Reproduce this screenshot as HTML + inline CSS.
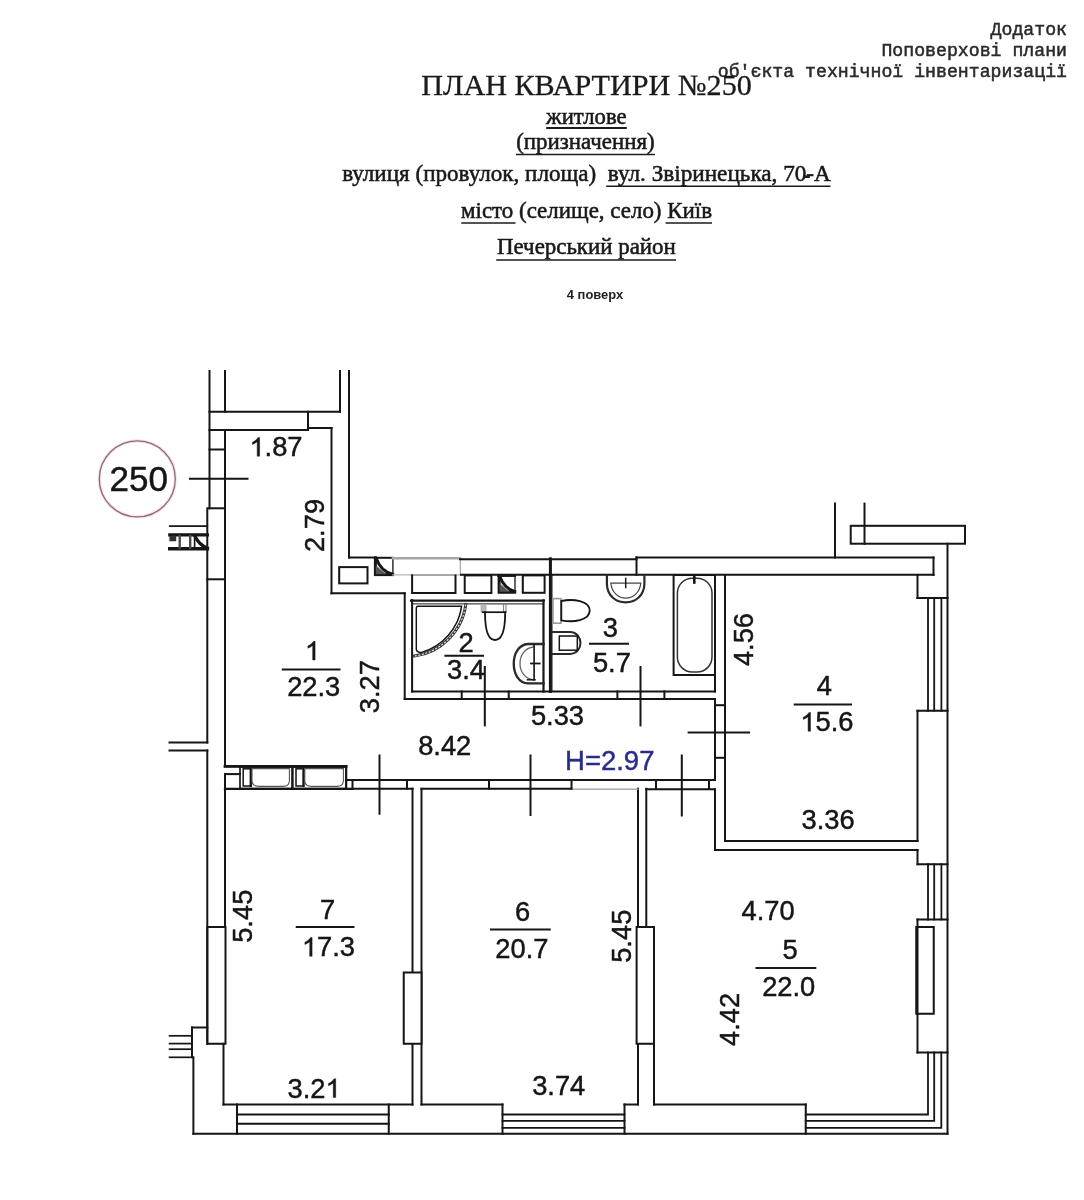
<!DOCTYPE html>
<html lang="uk"><head><meta charset="utf-8"><title>План квартири №250</title>
<style>
html,body{margin:0;padding:0;background:#fff;}
body{width:1084px;height:1200px;overflow:hidden;font-family:"Liberation Sans",sans-serif;}
svg{display:block;}
text.n{font-family:"Liberation Sans",sans-serif;}
text.s{font-family:"Liberation Serif",serif;}
text.m{font-family:"Liberation Mono",monospace;font-size:18.2px;}
</style></head><body>
<svg width="1084" height="1200" viewBox="0 0 1084 1200">
<defs><filter id="soft" x="0" y="0" width="100%" height="100%" filterUnits="userSpaceOnUse"><feGaussianBlur stdDeviation="0.5"/></filter></defs>
<rect width="1084" height="1200" fill="#fff"/>
<g filter="url(#soft)">
<g stroke="#141414" stroke-width="2.0" fill="none" stroke-linecap="square">
<line x1="209.5" y1="371" x2="209.5" y2="508.3"/>
<line x1="225" y1="371" x2="225" y2="411.75"/>
<line x1="225" y1="430" x2="225" y2="766.25"/>
<line x1="340" y1="371" x2="340" y2="411.75"/>
<line x1="349" y1="371" x2="349" y2="557.5"/>
<line x1="209.5" y1="411.75" x2="340" y2="411.75"/>
<line x1="209.5" y1="430" x2="308" y2="430"/>
<line x1="308" y1="411.75" x2="308" y2="430"/>
<line x1="308" y1="428" x2="331.5" y2="428"/>
<line x1="331.5" y1="428" x2="331.5" y2="593.3"/>
<line x1="209.5" y1="449.5" x2="225" y2="449.5"/>
<line x1="190" y1="478.75" x2="247.5" y2="478.75"/>
<rect x="207.3" y="508.3" width="17.7" height="71.0" fill="none"/>
<line x1="207.3" y1="579.3" x2="207.3" y2="742.5"/>
<line x1="207.3" y1="750.5" x2="207.3" y2="1043.75"/>
<line x1="169.5" y1="742.5" x2="207.3" y2="742.5"/>
<line x1="169.5" y1="750.5" x2="207.3" y2="750.5"/>
<line x1="169.8" y1="526.1" x2="207.3" y2="526.1" stroke-width="1.7"/>
<line x1="169.8" y1="534.8" x2="207.3" y2="534.8" stroke-width="3.2"/>
<line x1="169.8" y1="548.8" x2="207.3" y2="548.8" stroke-width="3.6"/>
<line x1="179.7" y1="536" x2="179.7" y2="548" stroke-width="2.4" stroke="#4a4a4a"/>
<line x1="190.2" y1="536" x2="190.2" y2="548" stroke-width="2.4" stroke="#4a4a4a"/>
<path d="M169.8 536 L176 536 L176 541 L169.8 541 Z" fill="#333" stroke-width="0.5" stroke="#333"/>
<line x1="194.6" y1="536" x2="194.6" y2="548" stroke-width="1.6"/>
<path d="M194.6 535.5 Q199 545 207.3 548" fill="none" stroke-width="3.2"/>
<line x1="349" y1="557.5" x2="374.3" y2="557.5"/>
<rect x="339.2" y="567.1" width="28.3" height="16.3" fill="none"/>
<rect x="374.6" y="557.6" width="18.3" height="17.8" fill="none" stroke-width="1.4" stroke="#222"/>
<path d="M375.6 557.6 L375.6 574.4 L392.9 574.4" fill="none" stroke-width="2.6"/>
<line x1="374.6" y1="557.8" x2="392.9" y2="557.8" stroke-width="1.8"/>
<path d="M376.5 559 Q381 571 392 574" fill="none" stroke-width="3.0"/>
<path d="M376 566 L376 574 L386 574 Z" fill="#555" stroke-width="0.5" stroke="#555"/>
<line x1="392.9" y1="558.2" x2="460" y2="558.2" stroke-width="2.4" stroke="#a6a6a6"/>
<line x1="392.9" y1="574.9" x2="412" y2="574.9" stroke-width="1.3" stroke="#b8b8b8"/>
<line x1="412" y1="574.9" x2="455.6" y2="574.9" stroke-width="1.5" stroke="#8a8a8a"/>
<line x1="455.6" y1="574.9" x2="461" y2="574.9" stroke-width="1.3" stroke="#b8b8b8"/>
<line x1="460.4" y1="559.5" x2="460.4" y2="574.6" stroke-width="1.3" stroke="#aaaaaa"/>
<line x1="460" y1="559.2" x2="636.5" y2="559.2"/>
<line x1="636.5" y1="557.3" x2="636.5" y2="574.8"/>
<line x1="636.5" y1="557.5" x2="933.5" y2="557.5"/>
<line x1="933.5" y1="557.5" x2="933.5" y2="575"/>
<line x1="461" y1="574.8" x2="933.5" y2="574.8"/>
<line x1="331.5" y1="593.3" x2="404.7" y2="593.3"/>
<line x1="404.7" y1="593.3" x2="404.7" y2="699"/>
<line x1="404.7" y1="699" x2="715" y2="699"/>
<path d="M412.1 575.4 L412.1 593 L455.5 593 L455.5 575.4" fill="none"/>
<rect x="464.7" y="575.4" width="26.7" height="17.6" fill="none"/>
<rect x="498.3" y="575.4" width="16.7" height="17.6" fill="none" stroke-width="1.4" stroke="#222"/>
<path d="M499.3 575.4 L499.3 592 L515 592" fill="none" stroke-width="2.6"/>
<line x1="498.3" y1="575.8" x2="515" y2="575.8" stroke-width="2.2"/>
<path d="M500 577 Q504.5 588.5 514.5 591.5" fill="none" stroke-width="3.0"/>
<path d="M499.8 584 L499.8 591.6 L509 591.6 Z" fill="#555" stroke-width="0.5" stroke="#555"/>
<rect x="522.8" y="575.4" width="21.8" height="17.4" fill="none"/>
<line x1="411.2" y1="600.6" x2="543.7" y2="600.6" stroke-width="2.4"/>
<line x1="413" y1="603.9" x2="543.7" y2="603.9" stroke-width="1"/>
<line x1="412.1" y1="600" x2="412.1" y2="691.5"/>
<line x1="412.1" y1="691.5" x2="715" y2="691.5"/>
<line x1="543.5" y1="600.4" x2="543.5" y2="691.5" stroke-width="2.2"/>
<line x1="550.4" y1="558.8" x2="550.4" y2="691.5" stroke-width="3"/>
<line x1="461.7" y1="691.5" x2="461.7" y2="699"/>
<line x1="508.7" y1="691.5" x2="508.7" y2="699"/>
<line x1="617.4" y1="691.5" x2="617.4" y2="699"/>
<line x1="664.4" y1="691.5" x2="664.4" y2="699"/>
<path d="M416.3 649 L416.3 608 Q416.3 606.3 418 606.3 L461.5 606.3 A56 56 0 0 1 421 652.6 Q416.3 652 416.3 649 Z" fill="none" stroke-width="1.5"/>
<path d="M465.8 604.5 A60.3 60.3 0 0 1 414.6 656" fill="none" stroke-width="3.0" stroke="#3a3a3a"/>
<path d="M465.8 604.5 A60.3 60.3 0 0 1 414.6 656" fill="none" stroke="#e4e4e4" stroke-width="1.2" stroke-dasharray="2.0 1.6" stroke-linecap="butt"/>
<rect x="481" y="604.6" width="5" height="6.6" fill="#b9b9b9" stroke-width="0.8" stroke="#aaa"/>
<line x1="503.5" y1="604.6" x2="503.5" y2="611.6" stroke-width="1.2" stroke="#888"/>
<line x1="506" y1="604.6" x2="506" y2="611.6" stroke-width="1.2" stroke="#888"/>
<line x1="482.5" y1="612.2" x2="505.5" y2="612.2" stroke-width="1.7"/>
<path d="M485 612.2 C485 631 488.5 640 495 640 C501.5 640 505.2 631 505.2 612.2" fill="none" stroke-width="1.8"/>
<path d="M543.7 644 L528 644 C509 645 509 682.5 528 683.4 L543.7 683.4" fill="none" stroke-width="2.3" stroke="#2a2a2a"/>
<path d="M533.5 647 C515.5 649 515.5 678 533.5 679.8" fill="none" stroke-width="1.3" stroke="#666"/>
<line x1="534.1" y1="645" x2="534.1" y2="679.8" stroke-width="1.6"/>
<line x1="527.5" y1="679.8" x2="535" y2="679.8" stroke-width="1.5"/>
<line x1="531" y1="663.5" x2="539.7" y2="663.5" stroke-width="1.8"/>
<line x1="552" y1="575" x2="552" y2="691.5" stroke-width="1"/>
<line x1="715" y1="575" x2="715" y2="691.5"/>
<line x1="715" y1="699" x2="715" y2="780"/>
<rect x="673.6" y="575" width="41.4" height="100" fill="none"/>
<rect x="677.4" y="578.2" width="34.6" height="93.8" fill="none" stroke-width="1.5" stroke="#333" rx="15"/>
<line x1="694.3" y1="575.5" x2="694.3" y2="582.5" stroke-width="2.6"/>
<line x1="725" y1="575" x2="725" y2="841"/>
<path d="M606.9 575.4 L606.9 584 C607.5 608.5 643.8 608.5 644.4 584 L644.4 575.4" fill="none" stroke-width="2.2" stroke="#2a2a2a"/>
<path d="M610.8 583.2 C613 603 638.5 603 640.8 583.2 Z" fill="none" stroke-width="1.2" stroke="#444"/>
<line x1="625.7" y1="578.5" x2="625.7" y2="587.5" stroke-width="1.5"/>
<rect x="553" y="598.6" width="8" height="24.6" fill="none" stroke-width="1.6" stroke="#9a9a9a"/>
<path d="M561.3 601 C573 598.6 589.7 600.5 589.7 610.6 C589.7 620.6 573 622.6 561.3 620.3 Z" fill="none" stroke-width="1.8"/>
<path d="M553 632 L570 632 C584 632.5 584 653.5 570 654 L553 654" fill="none" stroke-width="2.0" stroke="#2a2a2a"/>
<rect x="559.3" y="636" width="18.0" height="14.2" fill="none" stroke-width="1.5"/>
<line x1="725" y1="841" x2="917.5" y2="841"/>
<line x1="715" y1="850" x2="917.5" y2="850"/>
<line x1="715" y1="789.5" x2="715" y2="850"/>
<line x1="715" y1="705.2" x2="725" y2="705.2"/>
<line x1="715" y1="757.8" x2="725" y2="757.8"/>
<line x1="688.6" y1="732.4" x2="749" y2="732.4"/>
<line x1="917.5" y1="575" x2="917.5" y2="598"/>
<line x1="917.5" y1="598" x2="947.5" y2="598"/>
<line x1="947.5" y1="543.7" x2="947.5" y2="1133.75"/>
<rect x="850.7" y="525.8" width="114.3" height="17.9" fill="none"/>
<line x1="835" y1="503.6" x2="835" y2="557.5"/>
<line x1="864.5" y1="503.6" x2="864.5" y2="543.7"/>
<line x1="928" y1="598" x2="928" y2="710.75" stroke-width="1.8"/>
<line x1="928" y1="864.25" x2="928" y2="919.5" stroke-width="1.8"/>
<line x1="934.2" y1="598" x2="934.2" y2="710.75" stroke-width="1.8"/>
<line x1="934.2" y1="864.25" x2="934.2" y2="919.5" stroke-width="1.8"/>
<line x1="941.4" y1="598" x2="941.4" y2="710.75" stroke-width="1.8"/>
<line x1="941.4" y1="864.25" x2="941.4" y2="919.5" stroke-width="1.8"/>
<line x1="917.5" y1="710.75" x2="947.5" y2="710.75"/>
<line x1="917.5" y1="710.75" x2="917.5" y2="841"/>
<line x1="917.5" y1="850" x2="917.5" y2="864.25"/>
<line x1="917.5" y1="864.25" x2="947.5" y2="864.25"/>
<line x1="917.5" y1="919.5" x2="947.5" y2="919.5"/>
<line x1="917.5" y1="919.5" x2="917.5" y2="1052.5"/>
<line x1="917.5" y1="1052.5" x2="947.5" y2="1052.5"/>
<rect x="916.25" y="927" width="17.5" height="86.75" fill="none"/>
<path d="M928 1052.5 L928 1114.5 L805.75 1114.5" fill="none" stroke-width="1.8"/>
<path d="M934.2 1052.5 L934.2 1120.9 L805.75 1120.9" fill="none" stroke-width="1.8"/>
<path d="M941.3 1052.5 L941.3 1127.8 L805.75 1127.8" fill="none" stroke-width="1.8"/>
<line x1="193.4" y1="1133.75" x2="947.5" y2="1133.75"/>
<line x1="192" y1="1027.5" x2="192" y2="1057.3"/>
<line x1="193.4" y1="1057.3" x2="193.4" y2="1133.75"/>
<line x1="192" y1="1027.5" x2="207.3" y2="1027.5"/>
<line x1="169.6" y1="1035.8" x2="192" y2="1035.8" stroke-width="1.7"/>
<line x1="169.6" y1="1043.6" x2="192" y2="1043.6" stroke-width="1.7"/>
<line x1="169.6" y1="1049.2" x2="192" y2="1049.2" stroke-width="1.7"/>
<line x1="169.6" y1="1057.3" x2="192" y2="1057.3" stroke-width="1.7"/>
<line x1="223.5" y1="1104.5" x2="412.5" y2="1104.5"/>
<line x1="421.5" y1="1104.5" x2="502.5" y2="1104.5"/>
<line x1="624.5" y1="1104.5" x2="638" y2="1104.5"/>
<line x1="654" y1="1104.5" x2="805.75" y2="1104.5"/>
<line x1="805.75" y1="1104.5" x2="805.75" y2="1133.75"/>
<line x1="237" y1="1104.5" x2="237" y2="1133.75"/>
<line x1="388.75" y1="1104.5" x2="388.75" y2="1133.75"/>
<line x1="237" y1="1114.5" x2="388.75" y2="1114.5" stroke-width="1.8"/>
<line x1="237" y1="1123.75" x2="388.75" y2="1123.75" stroke-width="1.8"/>
<line x1="502.5" y1="1104.5" x2="502.5" y2="1133.75"/>
<line x1="624.5" y1="1104.5" x2="624.5" y2="1133.75"/>
<line x1="502.5" y1="1114.5" x2="624.5" y2="1114.5" stroke-width="1.8"/>
<line x1="502.5" y1="1120.9" x2="624.5" y2="1120.9" stroke-width="1.8"/>
<line x1="502.5" y1="1127.8" x2="624.5" y2="1127.8" stroke-width="1.8"/>
<line x1="225" y1="788.75" x2="225" y2="927"/>
<rect x="207.3" y="927" width="18.2" height="116.75" fill="none"/>
<line x1="223.5" y1="1043.75" x2="223.5" y2="1104.5"/>
<line x1="412.5" y1="788.75" x2="412.5" y2="1104.5"/>
<line x1="421.5" y1="788.75" x2="421.5" y2="1104.5"/>
<rect x="403.75" y="972.5" width="17.75" height="71.25" fill="#fff"/>
<line x1="638" y1="788.75" x2="638" y2="1104.5"/>
<line x1="646.3" y1="788.75" x2="646.3" y2="927"/>
<rect x="636.6" y="927" width="17.4" height="116.75" fill="#fff"/>
<line x1="654" y1="1043.75" x2="654" y2="1104.5"/>
<line x1="225" y1="766.25" x2="346.25" y2="766.25"/>
<line x1="346.25" y1="766.25" x2="346.25" y2="788.75"/>
<line x1="346.25" y1="780" x2="715" y2="780"/>
<line x1="225" y1="788.75" x2="412.5" y2="788.75"/>
<line x1="421.5" y1="788.75" x2="571.5" y2="788.75"/>
<line x1="571.5" y1="789.2" x2="638" y2="789.2" stroke-width="1.2" stroke="#9a9a9a"/>
<line x1="646.3" y1="789.3" x2="715" y2="789.3"/>
<line x1="352.5" y1="780" x2="352.5" y2="788.75"/>
<line x1="407" y1="780" x2="407" y2="788.75"/>
<line x1="489" y1="780" x2="489" y2="788.75"/>
<line x1="571.5" y1="780" x2="571.5" y2="788.75"/>
<line x1="656" y1="780" x2="656" y2="788.75"/>
<line x1="709" y1="780" x2="709" y2="788.75"/>
<line x1="225" y1="774.1" x2="240" y2="774.1"/>
<line x1="225" y1="774.1" x2="225" y2="788.75"/>
<line x1="225" y1="766.4" x2="346" y2="766.4" stroke-width="2.8"/>
<line x1="225" y1="789.0" x2="352.5" y2="789.0" stroke-width="2.2"/>
<rect x="240" y="767" width="52" height="21.6" fill="none" stroke-width="1.7"/>
<rect x="243.2" y="768.8" width="7.4" height="17.2" fill="none" stroke-width="1.5"/>
<line x1="250.8" y1="768.8" x2="250.8" y2="786" stroke-width="2.2"/>
<path d="M252 768.6 L289.4 768.6 L289.4 781 Q289 786.4 283 786.4 L259 786.4 Q252.4 786.4 252 781 Z" fill="none" stroke-width="1.1" stroke="#555"/>
<rect x="292.8" y="767" width="53.2" height="21.6" fill="none" stroke-width="1.7"/>
<rect x="296.0" y="768.8" width="7.4" height="17.2" fill="none" stroke-width="1.5"/>
<line x1="303.6" y1="768.8" x2="303.6" y2="786" stroke-width="2.2"/>
<path d="M304.8 768.6 L343.4 768.6 L343.4 781 Q343 786.4 337 786.4 L311.8 786.4 Q305.2 786.4 304.8 781 Z" fill="none" stroke-width="1.1" stroke="#555"/>
<line x1="379.5" y1="755.5" x2="379.5" y2="813.75"/>
<line x1="530.5" y1="755.5" x2="530.5" y2="815"/>
<line x1="681.8" y1="755.5" x2="681.8" y2="815.5"/>
<line x1="484.8" y1="667" x2="484.8" y2="725.4"/>
<line x1="640.5" y1="667" x2="640.5" y2="725.4"/>
</g>
<g stroke="#141414" stroke-width="1.9">
<line x1="281.75" y1="669.5" x2="340.5" y2="669.5"/>
<line x1="444.4" y1="655.7" x2="484" y2="655.7"/>
<line x1="589" y1="643.7" x2="629" y2="643.7"/>
<line x1="793.75" y1="704.5" x2="852" y2="704.5"/>
<line x1="755.5" y1="968" x2="816.25" y2="968"/>
<line x1="490" y1="929.5" x2="550.75" y2="929.5"/>
<line x1="295.75" y1="927" x2="354.5" y2="927"/>
</g>
<circle cx="137.3" cy="478.9" r="38" fill="none" stroke="#f7e3e6" stroke-width="3.4"/>
<circle cx="137.3" cy="478.9" r="38" fill="none" stroke="#8e6a73" stroke-width="1.25"/>
<g fill="#141414" stroke="#141414" stroke-width="0.45">
<text class="n" x="109.55" y="491.25" font-size="35">250</text>
<path d="M763 0H583V1147Q518 1085 412.5 1023T223 930V1104Q373 1175 485.5 1275T645 1469H763Z" transform="translate(249.43,456.25) scale(0.01333,-0.01273)" stroke-width="34"/><text class="n" x="264.62" y="456.25" font-size="27.3">.87</text>
<g transform="translate(323.5,525.5) rotate(-90)"><text class="n" x="-26.57" y="0" font-size="27.3">2.79</text></g>
<path d="M763 0H583V1147Q518 1085 412.5 1023T223 930V1104Q373 1175 485.5 1275T645 1469H763Z" transform="translate(304.91,660) scale(0.01333,-0.01273)" stroke-width="34"/>
<text class="n" x="287.18" y="696.25" font-size="27.3">22.3</text>
<g transform="translate(379.4,686.65) rotate(-90)"><text class="n" x="-26.57" y="0" font-size="27.3">3.27</text></g>
<text class="n" x="458.41" y="652" font-size="27.3">2</text>
<text class="n" x="447.02" y="678.8" font-size="27.3">3.4</text>
<text class="n" x="602.66" y="637.3" font-size="27.3">3</text>
<text class="n" x="592.92" y="672.3" font-size="27.3">5.7</text>
<text class="n" x="530.93" y="725.4" font-size="27.3">5.33</text>
<text class="n" x="418.18" y="755" font-size="27.3">8.42</text>
<text class="n" x="609.75" y="770" font-size="27.5" text-anchor="middle" fill="#2c2c8c" stroke="#2c2c8c">H=2.97</text>
<g transform="translate(752.5,639.55) rotate(-90)"><text class="n" x="-26.57" y="0" font-size="27.3">4.56</text></g>
<text class="n" x="816.78" y="695" font-size="27.3">4</text>
<path d="M763 0H583V1147Q518 1085 412.5 1023T223 930V1104Q373 1175 485.5 1275T645 1469H763Z" transform="translate(800.31,731.25) scale(0.01333,-0.01273)" stroke-width="34"/><text class="n" x="815.49" y="731.25" font-size="27.3">5.6</text>
<text class="n" x="801.56" y="828.75" font-size="27.3">3.36</text>
<text class="n" x="741.56" y="920" font-size="27.3">4.70</text>
<text class="n" x="782.41" y="958.75" font-size="27.3">5</text>
<text class="n" x="762.18" y="996.25" font-size="27.3">22.0</text>
<g transform="translate(738.5,1019.375) rotate(-90)"><text class="n" x="-26.57" y="0" font-size="27.3">4.42</text></g>
<text class="n" x="514.91" y="921.25" font-size="27.3">6</text>
<text class="n" x="495.31" y="958" font-size="27.3">20.7</text>
<g transform="translate(631,936.25) rotate(-90)"><text class="n" x="-26.57" y="0" font-size="27.3">5.45</text></g>
<text class="n" x="532.18" y="1095" font-size="27.3">3.74</text>
<text class="n" x="319.91" y="918.75" font-size="27.3">7</text>
<path d="M763 0H583V1147Q518 1085 412.5 1023T223 930V1104Q373 1175 485.5 1275T645 1469H763Z" transform="translate(301.93,956.25) scale(0.01333,-0.01273)" stroke-width="34"/><text class="n" x="317.12" y="956.25" font-size="27.3">7.3</text>
<g transform="translate(252.3,916.25) rotate(-90)"><text class="n" x="-26.57" y="0" font-size="27.3">5.45</text></g>
<text class="n" x="287.56" y="1097.5" font-size="27.3">3.2</text><path d="M763 0H583V1147Q518 1085 412.5 1023T223 930V1104Q373 1175 485.5 1275T645 1469H763Z" transform="translate(325.51,1097.5) scale(0.01333,-0.01273)" stroke-width="34"/>
</g>
<g fill="#2a2a2a" stroke="#2a2a2a" stroke-width="0.5">
<text class="m" x="1067" y="34.9" text-anchor="end">Додаток</text>
<text class="m" x="1067" y="55.9" text-anchor="end">Поповерхові плани</text>
<text class="m" x="1067" y="77.0" text-anchor="end">об'єкта технічної інвентаризації</text>
</g>
<g fill="#1a1a1a" stroke="#1a1a1a" stroke-width="0.55">
<text class="s" x="421.2" y="94.8" font-size="29.6" textLength="330.6" lengthAdjust="spacingAndGlyphs" stroke-width="0.3">ПЛАН КВАРТИРИ №250</text>
<text class="s" x="586.3" y="123.7" font-size="22.7" text-anchor="middle">житлове</text>
<text class="s" x="585.4" y="149.0" font-size="22.9" text-anchor="middle">(призначення)</text>
<text class="s" x="342.2" y="180.6" font-size="23.1">вулиця (провулок, площа)</text>
<text class="s" x="607.8" y="180.6" font-size="23.2">вул. Звіринецька, 70-А</text>
<text class="s" x="461" y="217.5" font-size="22.95">місто (селище, село) Київ</text>
<text class="s" x="497" y="254.3" font-size="22.9">Печерський район</text>
<text class="n" x="595" y="298.8" font-size="12.6" text-anchor="middle" font-weight="bold" fill="#222" stroke="none" textLength="56.5" lengthAdjust="spacingAndGlyphs">4 поверх</text>
</g>
<g stroke="#1a1a1a" stroke-width="1.5">
<line x1="546.2" y1="128.0" x2="626.8" y2="128.0" stroke-width="1.8"/>
<line x1="516" y1="154.4" x2="655" y2="154.4"/>
<line x1="606.2" y1="186.2" x2="830.5" y2="186.2"/>
<line x1="461.25" y1="223.1" x2="515.5" y2="223.1"/>
<line x1="665.6" y1="223.1" x2="712" y2="223.1"/>
<line x1="496.25" y1="260.1" x2="676" y2="260.1"/>
<line x1="803.6" y1="176.7" x2="809.8" y2="176.7" stroke-width="2.6"/>
</g>
</g>
</svg>
</body></html>
